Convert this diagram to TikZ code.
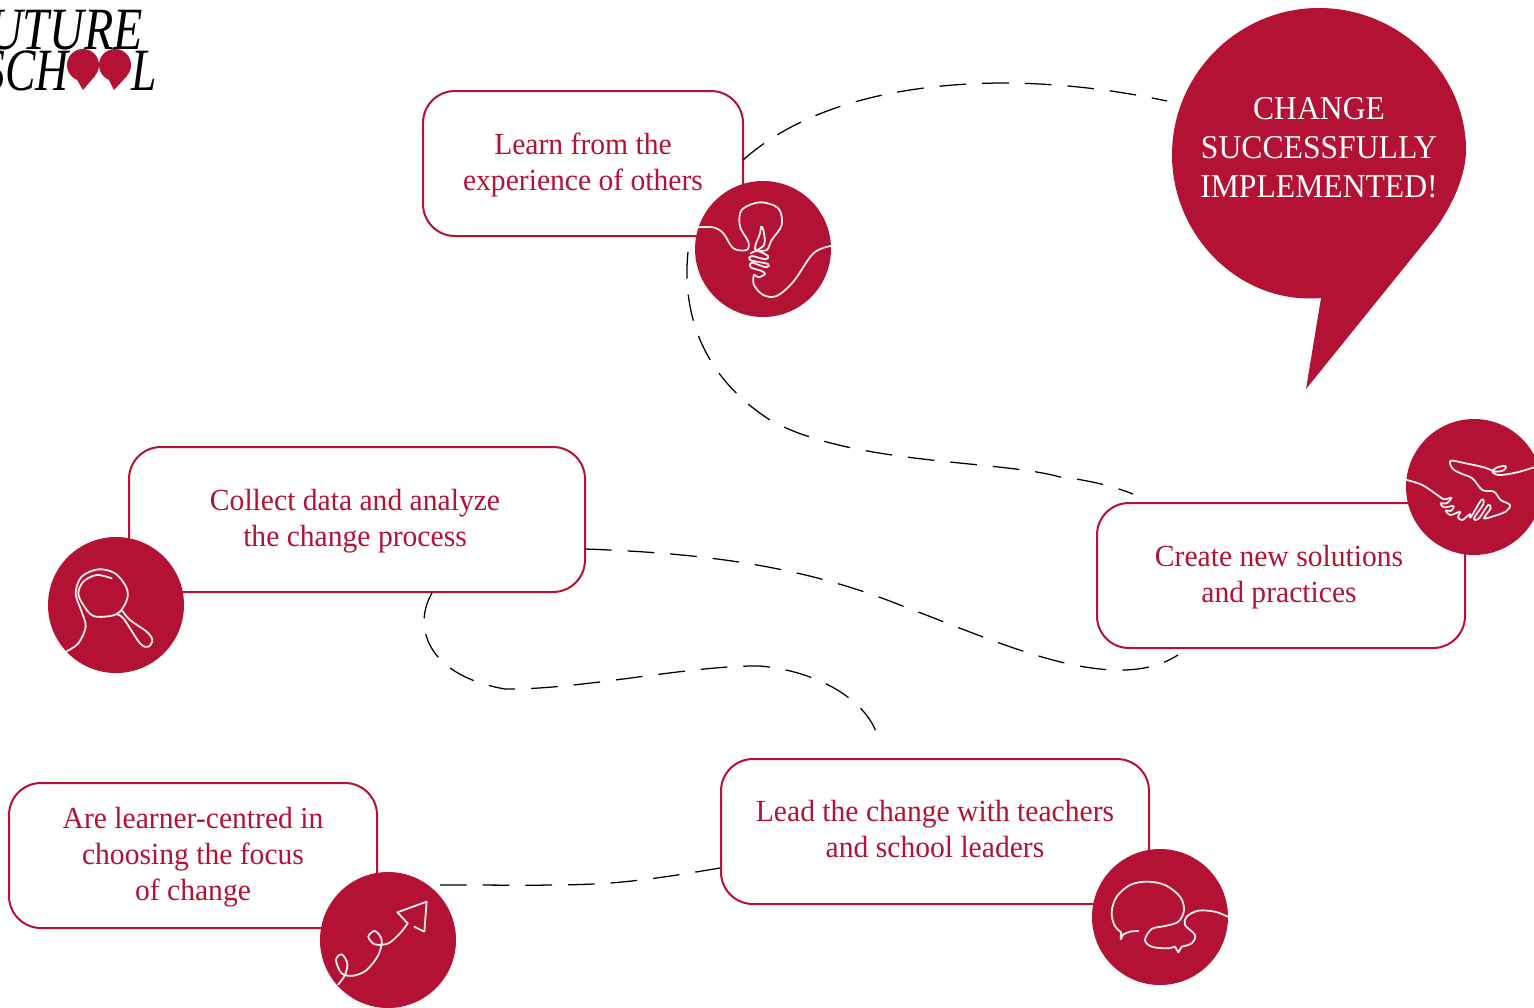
\documentclass[tikz,border=0pt]{standalone}
\usepackage{fontspec}
\setmainfont{Liberation Serif}
\newfontfamily\bodyfont[FakeStretch=.965]{Liberation Serif}
\newfontfamily\bubblefont[FakeStretch=.95]{Liberation Serif}
\newfontfamily\logofonta[FakeStretch=.8]{Liberation Serif}
\newfontfamily\logofontb[FakeStretch=.76]{Liberation Serif}
\definecolor{fsred}{HTML}{B31235}
\tikzset{
  box/.style={draw=fsred,line width=1.5pt,rounded corners=24pt,fill=white,minimum height=108.75pt,inner sep=0pt},
  boxtext/.style={align=center,inner sep=0pt,text=fsred,font=\bodyfont\fontsize{23pt}{26.8pt}\selectfont},
  disc/.style={circle,fill=fsred,minimum size=102pt,inner sep=0pt},
  icon/.style={draw=white!92!fsred,line width=1.35pt,line cap=round,line join=round},
  trail/.style={draw=black,line width=.95pt,dash pattern=on 20pt off 12pt},
}
\begin{document}
\begin{tikzpicture}[x=.75pt,y=-.75pt]
\useasboundingbox (0,0) rectangle (1534,1007);
\clip (0,0) rectangle (1534,1007);
% logo
\node[anchor=base west,inner sep=0pt,font=\logofonta\fontsize{45pt}{45pt}\selectfont\itshape] (logoa) at (-12,49) {UTURE};
\node[anchor=base west,inner sep=0pt,font=\logofontb\fontsize{45pt}{45pt}\selectfont\itshape] (logob) at (-18,90) {SCH};
\node[anchor=base west,inner sep=0pt,font=\logofontb\fontsize{45pt}{45pt}\selectfont\itshape] (logoc) at (131,90) {L};
\fill[fsred] (83,65) circle (16) (115,65) circle (16);
\fill[fsred] (76,78) -- (83,90) -- (95,76) -- cycle (108,78) -- (114,90) -- (127,76) -- cycle;
% boxes
\node[box,minimum width=240pt] (learn) at (583,163.5) {};
\node[box,minimum width=342pt] (collect) at (357,519.5) {};
\node[box,minimum width=276pt] (create) at (1281,575.5) {};
\node[box,minimum width=321pt] (lead) at (935,831.5) {};
\node[box,minimum width=276pt] (centred) at (193,855.5) {};
\node[boxtext] (learntext) at (583,165) {Learn from the\\experience of others};
\node[boxtext] (collecttext) at (355,521) {Collect data and analyze\\the change process};
\node[boxtext] (createtext) at (1279,577) {Create new solutions\\and practices};
\node[boxtext] (leadtext) at (935,829) {Lead the change with teachers\\and school leaders};
\node[boxtext] (centredtext) at (193,857) {Are learner-centred in\\choosing the focus\\of change};
% discs
\node[disc] (bulb) at (763,249) {};
\node[disc] (hand) at (1474,487) {};
\node[disc] (lens) at (116,605) {};
\node[disc] (arrow) at (388,940) {};
\node[disc] (talk) at (1160,917) {};
% bubble
\fill[fsred] (1306,389) -- (1321,298) .. controls (1240,305) and (1172,236) .. (1172,155) .. controls (1172,74) and (1238,8) .. (1319,8) .. controls (1400,8) and (1466,74) .. (1466,150) .. controls (1466,175) and (1452,208) .. (1432,233) -- cycle;
\node[align=center,text=white,inner sep=0pt,font=\bubblefont\fontsize{25pt}{29.3pt}\selectfont] (bubble) at (1319,148) {CHANGE\\SUCCESSFULLY\\IMPLEMENTED!};
% end points of the dashed trail
\coordinate (t1a) at (743,160);
\coordinate (t1b) at (1167,101);
\coordinate (t2a) at (688,252);
\coordinate (t2b) at (1133,494);
\coordinate (t3a) at (585,549);
\coordinate (t3b) at (1178,655);
\coordinate (t4a) at (432,593);
\coordinate (t4b) at (878,738);
\coordinate (t5a) at (440,885);
\coordinate (t5b) at (720,868);
\draw[trail] (t1a) .. controls (805,105) and (900,84) .. (1000,83) .. controls (1060,83) and (1115,90) .. (t1b);
\draw[trail] (t2a) .. controls (682,310) and (700,375) .. (770,420) .. controls (850,465) and (1000,460) .. (1060,477) .. controls (1090,480) and (1115,487) .. (t2b);
\draw[trail] (t3a) .. controls (700,553) and (800,565) .. (900,605) .. controls (980,635) and (1060,672) .. (1125,670) .. controls (1150,669) and (1165,663) .. (t3b);
\draw[trail] (t4a) .. controls (413,625) and (425,675) .. (505,689) .. controls (580,690) and (690,665) .. (760,666) .. controls (825,672) and (870,705) .. (t4b);
\draw[trail] (t5a) .. controls (520,885) and (570,886) .. (610,883) .. controls (650,880) and (690,873) .. (t5b);
% icons
\begin{scope}[shift={(680,170)},scale=1/3]
\draw[icon] plot[smooth,tension=.55] coordinates {(52,172)(100,172)(130,190)(160,235)(200,240)(205,215)(180,170)(185,120)(240,97)(295,115)(305,165)(275,210)(260,240)(225,237)(240,190)(243,170)(250,180)(252,225)(212,250)(232,243)(264,258)(256,268)(215,258)(210,270)(264,282)(258,292)(215,278)(212,292)(245,303)(255,312)(235,322)(222,315)(222,345)(250,375)(290,378)(340,335)(400,250)(452,228)};
\end{scope}
\begin{scope}[shift={(1394,410)},scale=1/3]
\draw[icon] plot[smooth,tension=.55] coordinates {(420,172)(365,188)(315,195)(295,185)(310,172)(335,168)(330,180)(305,185)(270,172)(215,160)(170,152)(175,175)(200,190)(235,205)(265,240)(300,245)(320,270)(348,285)(335,305)(300,318)};
\draw[icon] plot[smooth,tension=.55] coordinates {(38,210)(85,225)(130,255)(150,268)(172,263)(158,280)(140,280)(150,292)(178,288)(172,302)(155,302)(170,315)(198,305)(192,322)(205,330)(228,312)(230,322)(262,270)(268,282)(240,325)(255,325)(282,285)(290,295)(270,325)(300,318)};
\end{scope}
\begin{scope}[shift={(40,530)},scale=1/3]
\draw[icon] plot[smooth,tension=.55] coordinates {(78,365)(115,340)(137,290)(125,245)(107,190)(125,140)(175,118)(225,130)(258,170)(262,205)(240,245)(210,258)(160,258)(130,225)(115,190)(130,155)(170,135)(215,145)};
\draw[icon] plot[smooth,tension=.55] coordinates {(228,253)(250,265)(300,340)(325,350)(337,330)(320,305)(270,270)(245,240)};
\end{scope}
\begin{scope}[shift={(310,865)},scale=1/3]
\draw[icon] plot[smooth,tension=.55] coordinates {(85,358)(105,330)(112,295)(95,268)(78,285)(95,325)(130,332)(170,315)(205,270)(215,225)(195,198)(175,215)(195,238)(235,235)(270,205)(293,175)};
\draw[icon] (293,175) -- (262,142) -- (350,110) -- (343,200) -- (313,185);
\end{scope}
\begin{scope}[shift={(1085,845)},scale=1/3]
\draw[icon] plot[smooth,tension=.55] coordinates {(160,258)(135,260)(115,268)};
\draw[icon] (115,268) -- (107,283) -- (108,262);
\draw[icon] plot[smooth,tension=.55] coordinates {(108,262)(88,240)(80,200)(95,155)(135,120)(185,110)(240,120)(285,155)(297,195)(280,230)(240,243)(200,252)(180,285)(200,305)(245,310)(270,305)};
\draw[icon] (270,305) -- (280,322) -- (290,305);
\draw[icon] plot[smooth,tension=.55] coordinates {(290,305)(320,295)(330,270)(300,240)(305,215)(340,197)(390,200)(428,215)};
\end{scope}
\end{tikzpicture}
\end{document}
